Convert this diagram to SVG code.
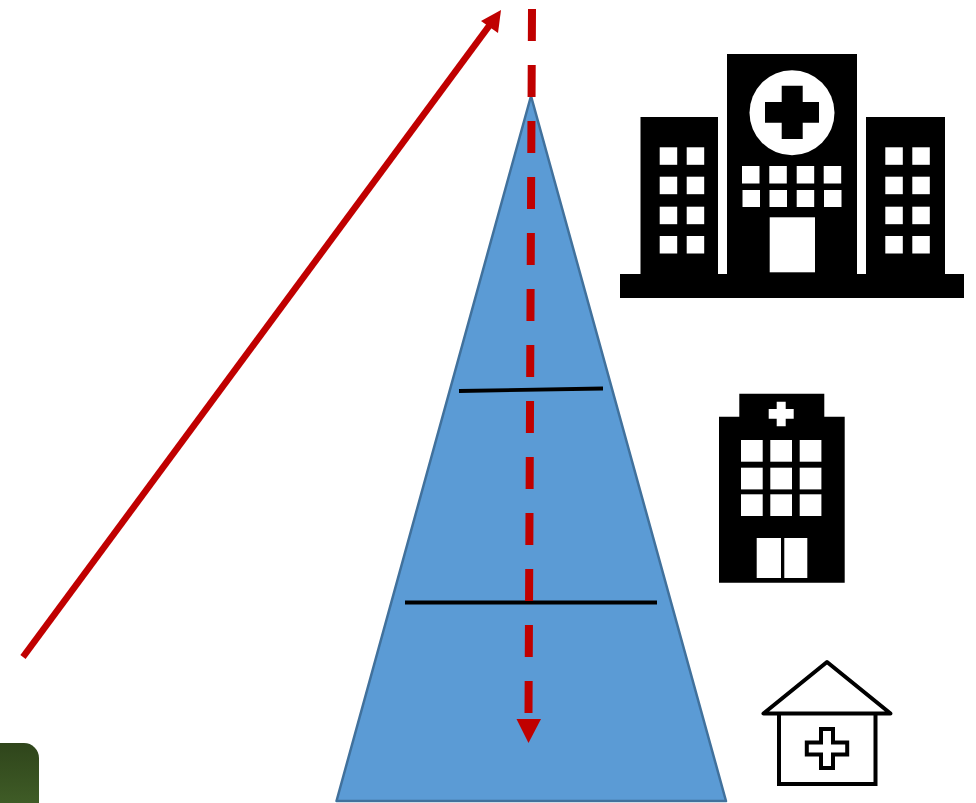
<svg xmlns="http://www.w3.org/2000/svg" width="976" height="803" viewBox="0 0 976 803">
<style>
.k{fill:#000}
.w{fill:#fff}
.red{stroke:#c00000;fill:none}
.blk{stroke:#000;fill:none}
</style>
<defs>
<linearGradient id="green" x1="0" y1="0" x2="0" y2="1"><stop offset="0" stop-color="#2f451b"/><stop offset="1" stop-color="#47672c"/></linearGradient>
</defs>
<rect width="976" height="803" fill="#fff"/>
<g id="green-corner"><rect x="-30" y="743" width="69" height="90" rx="15" fill="url(#green)"/></g>
<g id="pyramid">
<path d="M531 96L726 801H336.500Z" fill="#5b9bd5" stroke="#41719c" stroke-width="2.500" stroke-linejoin="round"/>
<path class="blk" stroke-width="3.800" d="M459 391L603 388.500"/>
<path class="blk" stroke-width="3.800" d="M405 602.500H657"/>
</g>
<g id="connectors">
<path class="red" stroke-width="6.500" d="M23 657L492 22"/>
<path d="M501 10L498 33L481 21Z" fill="#c00000"/>
<path class="red" stroke-width="8" stroke-dasharray="32 24" d="M532 9L528.500 713"/>
<path d="M516.500 719H541L528.500 743Z" fill="#c00000"/>
</g>
<g id="hospital-large">
<path class="k" d="M727 54H857V274H866V117H945V274H964V298H620V274H640.500V117H718V274H727Z"/>
<circle class="w" cx="792" cy="112.700" r="42.500"/>
<path class="k" d="M781.700 85.700H802.700V102H819V122.700H802.700V139H781.700V122.700H765V102H781.700Z"/>
<g class="w">
<rect x="659.700" y="147.300" width="17.500" height="17.500"/><rect x="686.700" y="147.300" width="17.500" height="17.500"/>
<rect x="659.700" y="176.700" width="17.500" height="17.500"/><rect x="686.700" y="176.700" width="17.500" height="17.500"/>
<rect x="659.700" y="206.700" width="17.500" height="17.500"/><rect x="686.700" y="206.700" width="17.500" height="17.500"/>
<rect x="659.700" y="236" width="17.500" height="17.500"/><rect x="686.700" y="236" width="17.500" height="17.500"/>
<rect x="885.300" y="147.300" width="17.500" height="17.500"/><rect x="912.300" y="147.300" width="17.500" height="17.500"/>
<rect x="885.300" y="176.700" width="17.500" height="17.500"/><rect x="912.300" y="176.700" width="17.500" height="17.500"/>
<rect x="885.300" y="206.700" width="17.500" height="17.500"/><rect x="912.300" y="206.700" width="17.500" height="17.500"/>
<rect x="885.300" y="236" width="17.500" height="17.500"/><rect x="912.300" y="236" width="17.500" height="17.500"/>
<rect x="742" y="166" width="17.500" height="17.500"/><rect x="769.300" y="166" width="17.500" height="17.500"/><rect x="796.700" y="166" width="17.500" height="17.500"/><rect x="823.700" y="166" width="17.500" height="17.500"/>
<rect x="742.500" y="190" width="17.500" height="17"/><rect x="769.500" y="190" width="17.500" height="17"/><rect x="796.700" y="190" width="17.500" height="17"/><rect x="824" y="190" width="17.500" height="17"/>
<rect x="769.700" y="217.300" width="45.300" height="55"/>
</g>
</g>
<g id="hospital-medium">
<path class="k" d="M739.300 393.700H824.300V416.700H844.700V582.700H719V416.700H739.300Z"/>
<path class="w" d="M776.700 401.700H785.700V409H793.700V418.700H785.700V426.300H776.700V418.700H768.700V409H776.700Z"/>
<g class="w">
<rect x="741" y="440" width="21.700" height="21.700"/><rect x="770.300" y="440" width="21.700" height="21.700"/><rect x="799.700" y="440" width="21.700" height="21.700"/>
<rect x="741" y="467.700" width="21.700" height="21.700"/><rect x="770.300" y="467.700" width="21.700" height="21.700"/><rect x="799.700" y="467.700" width="21.700" height="21.700"/>
<rect x="741" y="494.300" width="21.700" height="21.700"/><rect x="770.300" y="494.300" width="21.700" height="21.700"/><rect x="799.700" y="494.300" width="21.700" height="21.700"/>
<rect x="756.700" y="538" width="24.300" height="40"/><rect x="784.300" y="538" width="23" height="40"/>
</g>
</g>
<g id="clinic" fill="none" stroke="#000" stroke-width="4" stroke-linejoin="round">
<path d="M827 662L763.500 713.500H890.500Z"/>
<path stroke-linejoin="miter" d="M779 713V784H875.500V713"/>
<path stroke-linejoin="miter" d="M821 729H833V742.500H847.200V754.500H833V768H821V754.500H806.800V742.500H821Z"/>
</g>
</svg>
